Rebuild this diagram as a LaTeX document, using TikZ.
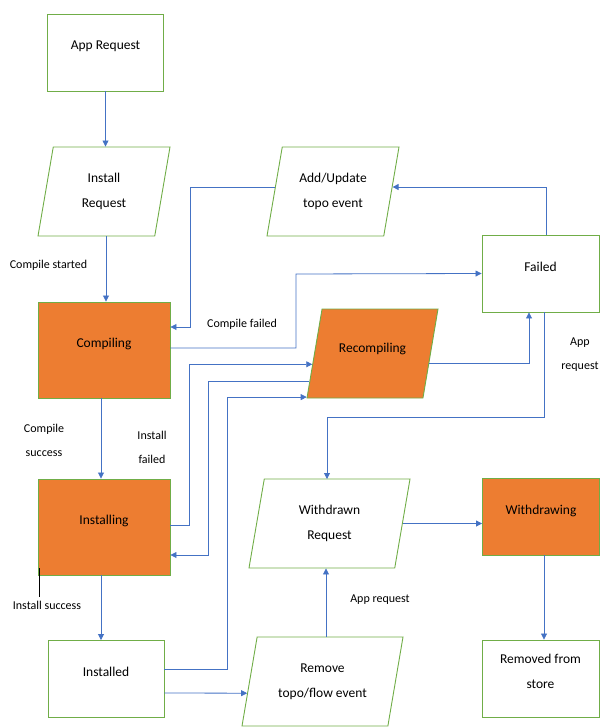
\documentclass[tikz,border=0pt]{standalone}
\usepackage{fontspec}
\setmainfont{Carlito}
\usetikzlibrary{shapes.geometric,arrows.meta,calc}
\definecolor{boxgreen}{HTML}{70AD47}
\definecolor{boxorange}{HTML}{ED7D31}
\definecolor{lineblue}{HTML}{4472C4}
\begin{document}
\begin{tikzpicture}[x=1pt,y=-1pt,
        box/.style={draw=boxgreen, line width=0.9pt, minimum width=116pt, minimum height=77pt,
            align=center, text depth=14pt, font=\fontsize{13.5}{25}\selectfont},
        busy/.style={box, fill=boxorange, minimum width=132pt, minimum height=96pt},
        para/.style={draw=boxgreen, line width=0.9pt, trapezium, trapezium left angle=80,
            trapezium right angle=100, trapezium stretches body, minimum width=132pt,
            minimum height=89pt, inner xsep=0pt, inner ysep=25pt, align=center,
            font=\fontsize{13.5}{25}\selectfont},
        flow/.style={draw=lineblue, line width=0.8pt, -{Triangle[length=6pt,width=6pt]}},
        lbl/.style={font=\fontsize{12}{24}\selectfont, align=center}]
        \useasboundingbox (0,0) rectangle (600,727);

        % left column
        \node[box] (appreq) at (105.5,52.5) {App Request};
        \node[para] (instreq) at (104,191.5) {Install\\Request};
        \node[busy] (compiling) at (104,350) {Compiling};
        \node[busy] (installing) at (104,527) {Installing};
        \node[box] (installed) at (106,679) {Installed};

        % middle and right
        \node[para] (addupd) at (333,191.5) {Add/Update\\topo event};
        \node[box, minimum width=117pt] (failed) at (540.5,273.5) {Failed};
        \node[para, fill=boxorange, minimum width=131pt, inner ysep=32pt, text depth=12pt] (recomp) at (372.5,353.5) {Recompiling};
        \node[para, minimum width=161pt] (withreq) at (329.5,523.5) {Withdrawn\\Request};
        \node[box, fill=boxorange, minimum width=117pt] (withdrawing) at (541,516.5) {Withdrawing};
        \node[box, minimum width=117pt] (removed) at (540.5,678.5) {Removed from\\store};
        \node[para, minimum width=161pt] (remove) at (322.5,681.5) {Remove\\topo/flow event};

        % labels
        \node[lbl] (cstart) at (48.5,265) {Compile started};
        \node[lbl] (cfail) at (242,324) {Compile failed};
        \node[lbl] (csucc) at (44,440) {Compile\\success};
        \node[lbl] (ifail) at (152,447) {Install\\failed};
        \node[lbl] (isucc) at (47,605) {Install success};
        \node[lbl] (appreq1) at (580,355) {App\\request};
        \node[lbl] (appreq2) at (380,600) {App request};

        \draw[flow] (appreq.south) -- (appreq.south |- instreq.north);
        \draw[flow] ([xshift=2]compiling.north |- instreq.south) -- ([xshift=2]compiling.north);
        \draw[flow] ([xshift=-3]compiling.south) -- ([xshift=-3]installing.north);
        \draw[flow] ([xshift=-3]installing.south) -- ([xshift=-3]installing.south |- installed.north);
        \draw[line width=0.6pt] ([xshift=2,yshift=7]installing.south west) -- ([xshift=2]installing.south west |- isucc.north);

        \draw[flow] ($(addupd.bottom left corner)!0.55!(addupd.top left corner)$) -| (190,327) -- ([yshift=23]compiling.east);
        \draw[flow] ([yshift=2]compiling.east) -| (296,274) -- (failed.west);
        \draw[flow] ([xshift=5.5]failed.north) |- ($(addupd.bottom right corner)!0.55!(addupd.top right corner)$);
        \draw[flow] ($(recomp.bottom right corner)!0.39!(recomp.top right corner)$) -| ([xshift=-11.5]failed.south);
        \draw[flow] ([xshift=3.5]failed.south) |- (327,417) -- (327,479);

        \draw[flow] ([yshift=2]installing.east) -- ++(19,0) |- ($(recomp.bottom left corner)!0.38!(recomp.top left corner)$);
        \draw[flow] ($(recomp.bottom left corner)!0.19!(recomp.top left corner)$) -| (208,555) -- ([yshift=-28]installing.east);
        \draw[flow] ([yshift=10]installed.east) -- ++(63,0) |- ($(recomp.bottom left corner)!0.015!(recomp.top left corner)$);

        \draw[flow] ([yshift=-14]installed.east) -- ($(remove.bottom left corner)!0.37!(remove.top left corner)$);
        \draw[flow] ([xshift=-3.5]withreq.center |- remove.north) -- ([xshift=-3.5]withreq.center |- withreq.south);
        \draw[flow] (withreq.east) -- (withreq.east -| withdrawing.west);
        \draw[flow] ([xshift=3]withdrawing.south) -- ([xshift=3]withdrawing.south |- removed.north);
    \end{tikzpicture}
\end{document}
